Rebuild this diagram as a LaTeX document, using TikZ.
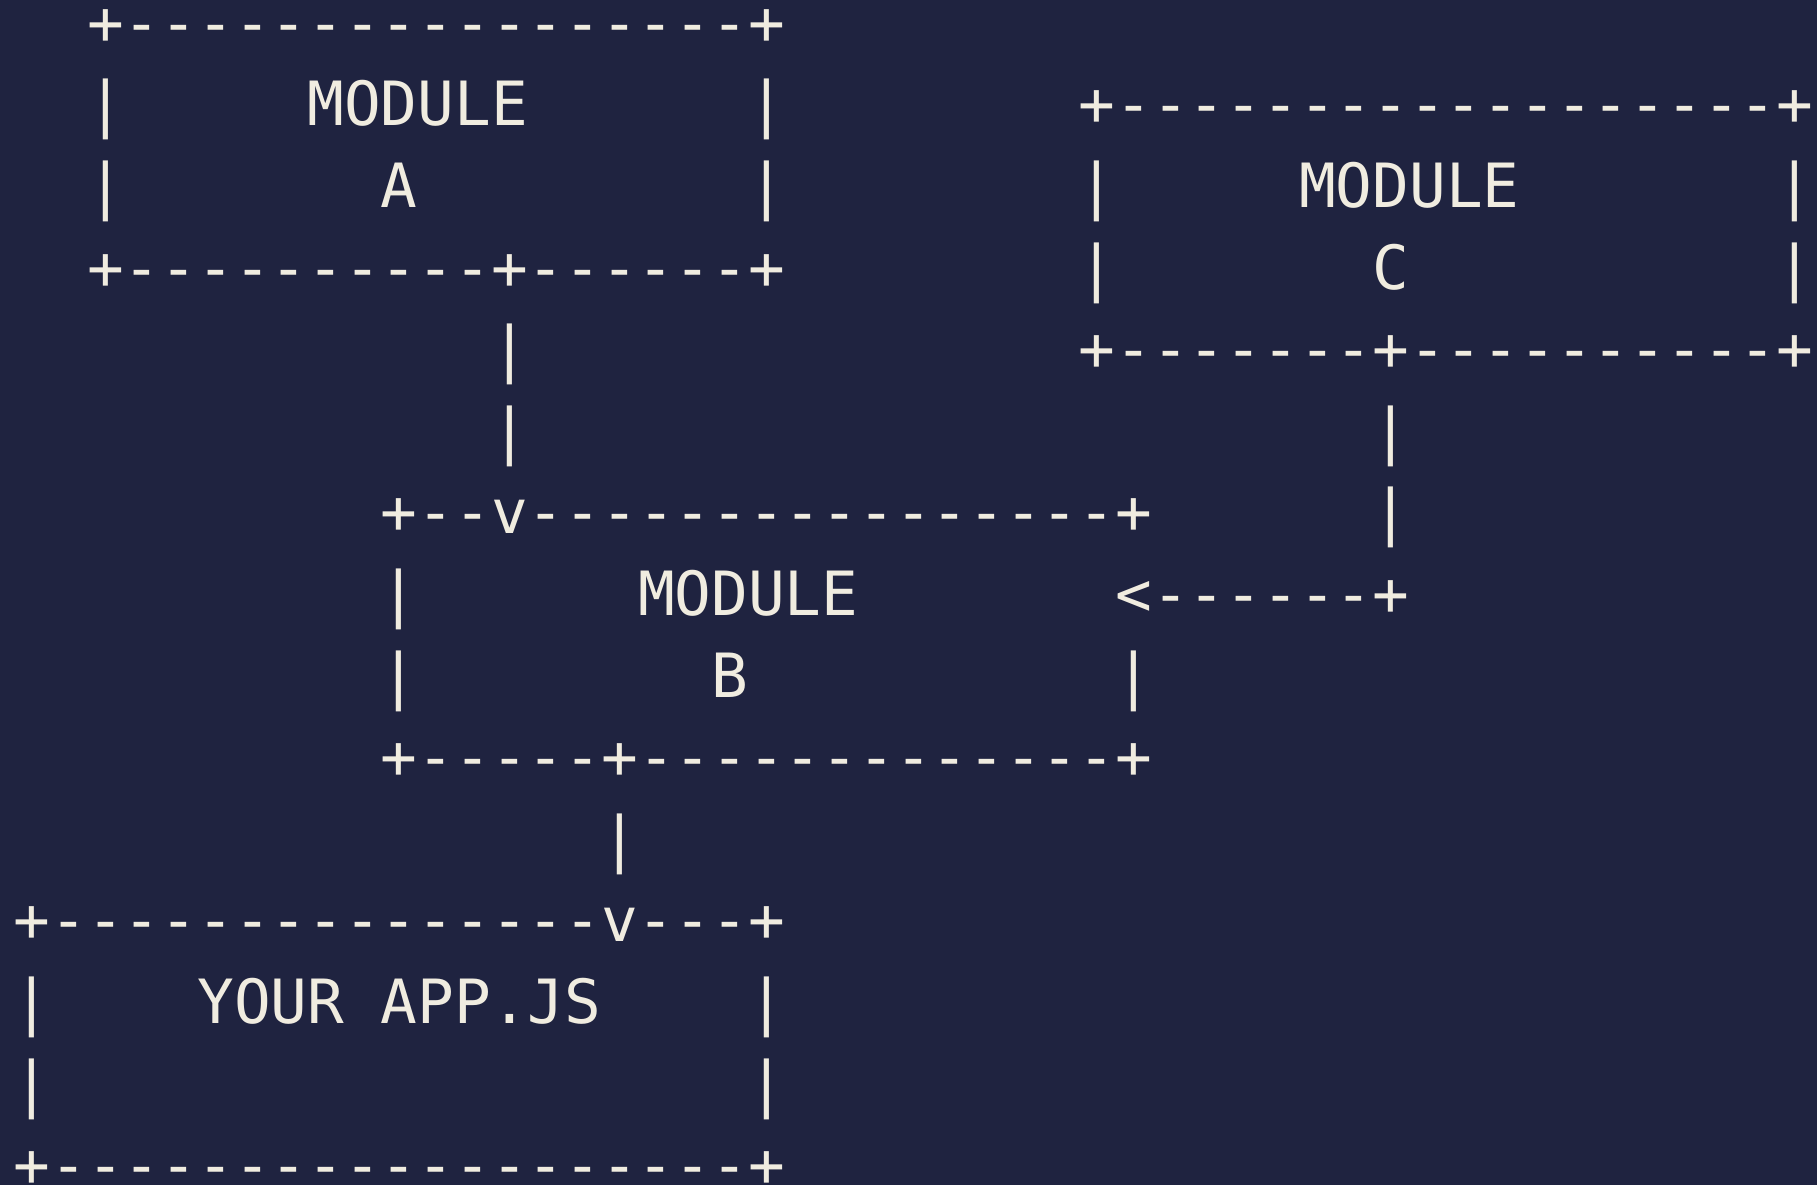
\documentclass[tikz,border=0pt]{standalone}
\usepackage{fontspec}
\setmonofont{DejaVu Sans Mono}
\usepackage{tikz}
\definecolor{bgnavy}{HTML}{1F2340}
\definecolor{ink}{HTML}{F0ECE0}
\newcommand{\ascfont}{\ttfamily\fontsize{30.5pt}{36pt}\selectfont}
\tikzset{%
  asc/.style={anchor=base west,inner sep=0,outer sep=0,text=ink,font=\ascfont}
}

\begin{document}
\begin{tikzpicture}[x=18.365pt,y=40.8pt]
    \fill[bgnavy] (-0.373,0.544) rectangle (49.10,-13.978);
    \useasboundingbox (-0.373,0.544) rectangle (49.10,-13.978);
    % module A
    \node[asc] (aTop)  at (2,0)  {+-----------------+};
    \node[asc] (aRowA) at (2,-1) {|~~~~~MODULE~~~~~~|};
    \node[asc] (aRowB) at (2,-2) {|~~~~~~~A~~~~~~~~~|};
    \node[asc] (aBot)  at (2,-3) {+----------+------+};
    \node[asc] (abPipeA) at (13,-4) {|};
    \node[asc] (abPipeB) at (13,-5) {|};
    % module C
    \node[asc] (cTop)  at (29,-1) {+------------------+};
    \node[asc] (cRowA) at (29,-2) {|~~~~~MODULE~~~~~~~|};
    \node[asc] (cRowB) at (29,-3) {|~~~~~~~C~~~~~~~~~~|};
    \node[asc] (cBot)  at (29,-4) {+-------+----------+};
    \node[asc] (cbPipeA) at (37,-5) {|};
    \node[asc] (cbPipeB) at (37,-6) {|};
    \node[asc] (cbArrow) at (30,-7) {<------+};
    % module B
    \node[asc] (bTop)  at (10,-6) {+--v----------------+};
    \node[asc] (bRowA) at (10,-7) {|~~~~~~MODULE};
    \node[asc] (bRowB) at (10,-8) {|~~~~~~~~B~~~~~~~~~~|};
    \node[asc] (bBot)  at (10,-9) {+-----+-------------+};
    \node[asc] (bappPipe) at (16,-10) {|};
    % your app
    \node[asc] (appTop)  at (0,-11) {+---------------v---+};
    \node[asc] (appRowA) at (0,-12) {|~~~~YOUR~APP.JS~~~~|};
    \node[asc] (appRowB) at (0,-13) {|~~~~~~~~~~~~~~~~~~~|};
    \node[asc] (appBot)  at (0,-14) {+-------------------+};
\end{tikzpicture}
\end{document}
